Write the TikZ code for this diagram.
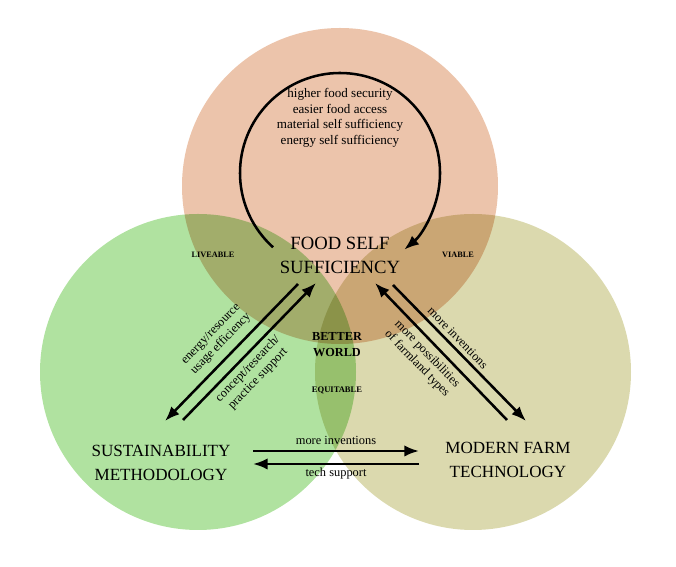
\documentclass[tikz,border=0pt]{standalone}
\usepackage{fontspec}
\setmainfont{Liberation Serif}
\usepackage{tikz}
\usetikzlibrary{arrows.meta}

\definecolor{foodpeach}{RGB}{236,196,171}
\definecolor{sustgreen}{RGB}{176,226,160}
\definecolor{farmolive}{RGB}{219,217,174}

\begin{document}
\begin{tikzpicture}[
    x=0.75pt, y=0.75pt,
    mainlabel/.style={align=center, font=\fontsize{14}{18}\selectfont, inner sep=0pt},
    cornerlabel/.style={align=center, font=\fontsize{12.8}{18.5}\selectfont, inner sep=0pt},
    quality/.style={font=\fontsize{6.2}{7}\selectfont\bfseries, inner sep=0pt},
    flowlabel/.style={align=center, font=\fontsize{9.3}{10.5}\selectfont, inner sep=0pt},
    flow/.style={line width=1.9pt, -{Latex[length=11pt,width=8.5pt]}}
  ]
  \useasboundingbox (0,0) rectangle (676,567);

  % Circles
  \begin{scope}[blend group=multiply]
    \fill[foodpeach] (340,381) circle (158);
    \fill[sustgreen] (198,195) circle (158);
    \fill[farmolive] (473,195) circle (158);
  \end{scope}

  % Self loop
  \coordinate (loop) at (340,394);
  \draw[flow] ([shift={(228:100)}]loop) arc (228:-50:100);
  \node[flowlabel, font=\fontsize{9.8}{11.6}\selectfont] (goals) at (340,449)
    {higher food security\\easier food access\\material self sufficiency\\energy self sufficiency};

  % Main nodes
  \node[mainlabel] (FSS) at (340,312) {FOOD SELF\\SUFFICIENCY};
  \node[cornerlabel] (SM) at (161,104) {SUSTAINABILITY\\METHODOLOGY};
  \node[cornerlabel] (MFT) at (508,107) {MODERN FARM\\TECHNOLOGY};

  % Qualities
  \node[quality] (liveable) at (213,312) {LIVEABLE};
  \node[quality] (viable) at (458,312) {VIABLE};
  \node[quality, font=\fontsize{6.4}{7}\selectfont\bfseries] (equitable) at (337,177) {EQUITABLE};
  \node[quality, align=center, font=\fontsize{9.2}{12}\selectfont\bfseries] (better) at (337,222) {BETTER\\WORLD};

  % Flows
  \draw[flow] ([shift={(-42,-29)}]FSS.center) -- ([shift={(4,42)}]SM.center);
  \draw[flow] ([shift={(22,43)}]SM.center) -- ([shift={(-24,-28)}]FSS.center);
  \draw[flow] ([shift={(-1,40)}]MFT.center) -- ([shift={(35,-28)}]FSS.center);
  \draw[flow] ([shift={(53,-30)}]FSS.center) -- ([shift={(18,39)}]MFT.center);
  \draw[flow] ([shift={(92,12)}]SM.center) -- ([shift={(-89,9)}]MFT.center);
  \draw[flow] ([shift={(-89,-4)}]MFT.center) -- ([shift={(92,-1)}]SM.center);

  % Flow labels
  \node[flowlabel, rotate=46] (efficiency) at (216,228) {energy/resource\\usage efficiency};
  \node[flowlabel, rotate=46] (support) at (253,193) {concept/research/\\practice support};
  \node[flowlabel, rotate=-46] (inventions) at (458,229) {more inventions};
  \node[flowlabel, rotate=-46] (farmland) at (422,208) {more possibilities\\of farmland types};
  \node[flowlabel] (moreinv) at (336,127) {more inventions};
  \node[flowlabel] (tech) at (336,93) {tech support};
\end{tikzpicture}
\end{document}
